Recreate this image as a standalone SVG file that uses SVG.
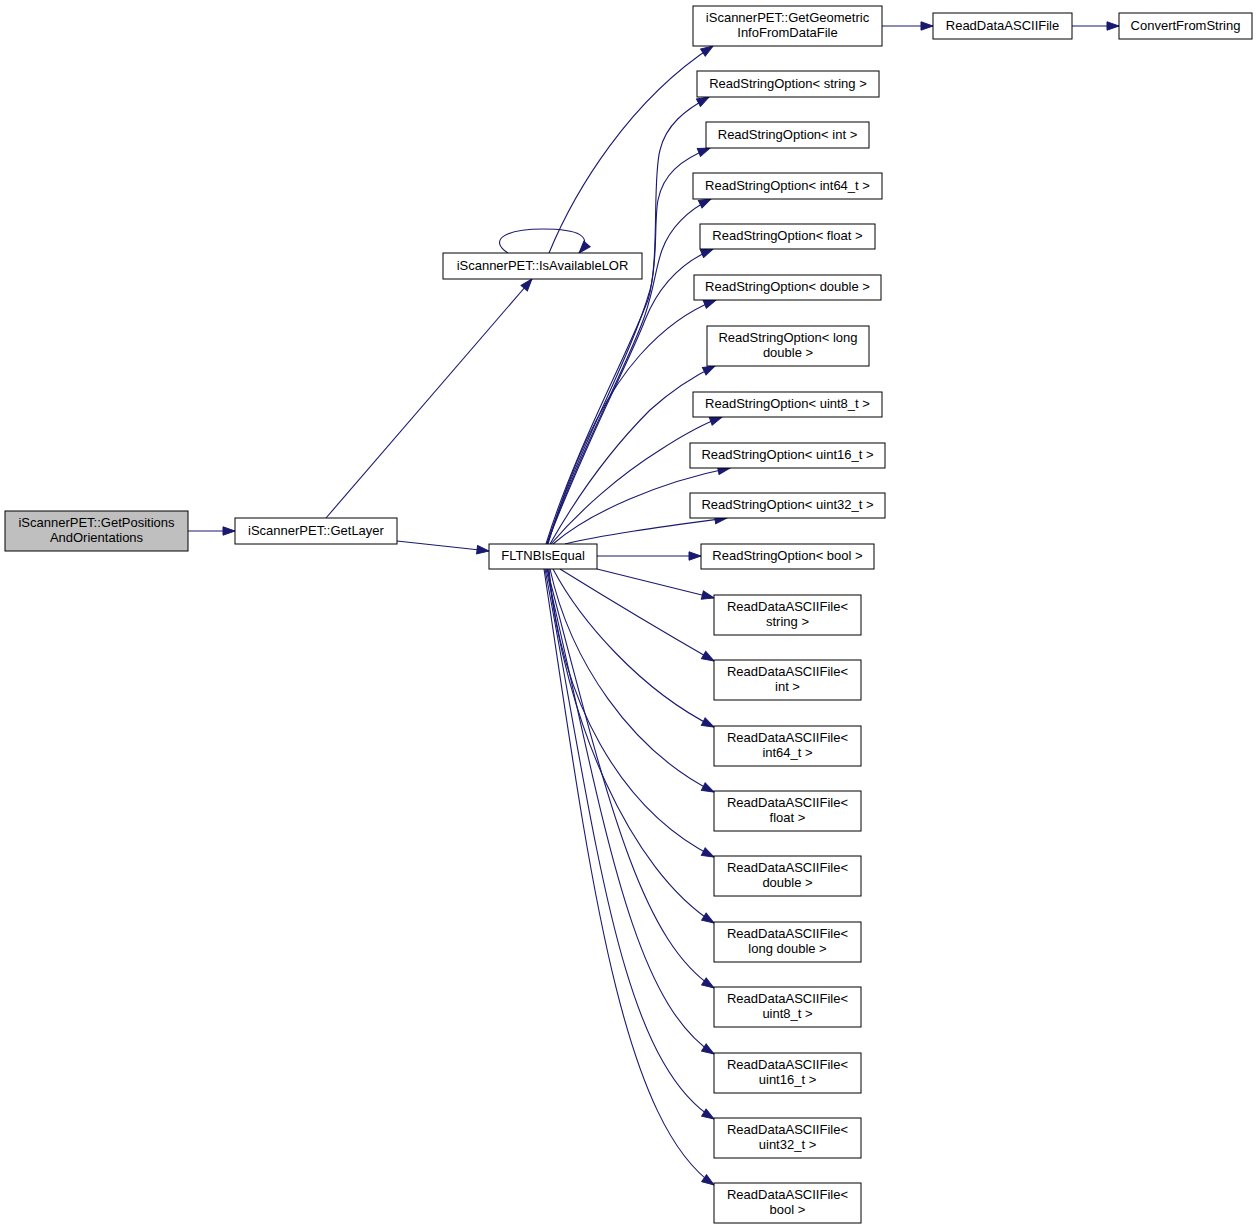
<svg xmlns="http://www.w3.org/2000/svg" width="1257" height="1229" viewBox="0 0 1257 1229">
<style>
.n rect{fill:#ffffff;stroke:#000000;stroke-width:1}
.n.root rect{fill:#bfbfbf}
.n text{font-family:"Liberation Sans",Arial,Helvetica,sans-serif;font-size:13px;fill:#000000;text-anchor:middle}
.e path{fill:none;stroke:#191970;stroke-width:1.1;marker-end:url(#ah)}
</style>
<defs>
<marker id="ah" markerUnits="userSpaceOnUse" markerWidth="14" markerHeight="10" viewBox="0 0 13 10" refX="12.5" refY="5" orient="auto">
<path d="M0.5,0.8 L12.5,5 L0.5,9.2 z" fill="#191970" stroke="#191970" stroke-width="1"/>
</marker>
</defs>
<rect x="0" y="0" width="1257" height="1229" fill="#ffffff"/>
<g id="edges" class="e">
<path d="M188,531 L235,531"/>
<path d="M326,518 L532,279"/>
<path d="M397,541 L489,551"/>
<path d="M508,253 C488,240 505,229 543,229 C578,229 594,236 579,253"/>
<path d="M549,253 C575,190 630,100 713,46"/>
<path d="M882,26 L933,26"/>
<path d="M1072,26 L1119,26"/>
<path d="M546,544 C575,450 625,360 648,300 C660,260 652,180 660,150 C666,125 685,110 709,97"/>
<path d="M547,544 C577,450 630,360 650,290 C658,262 654,220 658,200 C663,175 680,160 710,148"/>
<path d="M547,544 C580,450 630,360 645,315 C655,285 655,270 662,250 C670,228 688,210 711,199"/>
<path d="M547,544 C582,450 630,360 645,320 C655,295 675,265 713,249"/>
<path d="M548,544 C570,470 600,400 640,355 C665,327 690,310 716,300"/>
<path d="M550,544 C575,500 610,450 650,410 C670,392 690,378 715,366"/>
<path d="M551,544 C580,510 620,475 660,450 C680,437 700,425 722,417"/>
<path d="M553,544 C590,512 660,482 730,468"/>
<path d="M565,544 C600,535 660,527 727,518"/>
<path d="M597,556 L701,556"/>
<path d="M597,569 L714,598"/>
<path d="M560,569 C610,600 660,630 714,661"/>
<path d="M553,569 C580,620 640,690 714,727"/>
<path d="M550,569 C570,660 630,750 714,792"/>
<path d="M549,569 C560,700 620,810 714,857"/>
<path d="M548,569 C565,720 630,870 714,923"/>
<path d="M547,569 C607,799 640,940 714,988"/>
<path d="M546,569 C604,819 630,1000 714,1054"/>
<path d="M545,569 C598,849 620,1060 714,1119"/>
<path d="M544,569 C589,869 620,1120 714,1185"/>
</g>
<g id="node_getpositions" class="n root"><rect x="5" y="511" width="183" height="40"/><text x="96.5" y="527">iScannerPET::GetPositions</text><text x="96.5" y="542">AndOrientations</text></g>
<g id="node_getlayer" class="n"><rect x="235" y="518" width="162" height="26"/><text x="316" y="534.5">iScannerPET::GetLayer</text></g>
<g id="node_isavailablelor" class="n"><rect x="443" y="253" width="199" height="26"/><text x="542.5" y="269.5">iScannerPET::IsAvailableLOR</text></g>
<g id="node_getgeometric" class="n"><rect x="693" y="6" width="189" height="40"/><text x="787.5" y="22">iScannerPET::GetGeometric</text><text x="787.5" y="37">InfoFromDataFile</text></g>
<g id="node_readdataasciifile" class="n"><rect x="933" y="13" width="139" height="26"/><text x="1002.5" y="29.5">ReadDataASCIIFile</text></g>
<g id="node_convertfromstring" class="n"><rect x="1119" y="13" width="133" height="26"/><text x="1185.5" y="29.5">ConvertFromString</text></g>
<g id="node_fltnbisequal" class="n"><rect x="489" y="544" width="108" height="25"/><text x="543" y="560">FLTNBIsEqual</text></g>
<g id="node_rso_string" class="n"><rect x="697" y="71" width="182" height="26"/><text x="788" y="87.5">ReadStringOption&lt; string &gt;</text></g>
<g id="node_rso_int" class="n"><rect x="706" y="122" width="163" height="26"/><text x="787.5" y="138.5">ReadStringOption&lt; int &gt;</text></g>
<g id="node_rso_int64" class="n"><rect x="693" y="173" width="189" height="26"/><text x="787.5" y="189.5">ReadStringOption&lt; int64_t &gt;</text></g>
<g id="node_rso_float" class="n"><rect x="700" y="224" width="175" height="25"/><text x="787.5" y="240">ReadStringOption&lt; float &gt;</text></g>
<g id="node_rso_double" class="n"><rect x="694" y="275" width="187" height="25"/><text x="787.5" y="291">ReadStringOption&lt; double &gt;</text></g>
<g id="node_rso_longdouble" class="n"><rect x="707" y="326" width="162" height="40"/><text x="788" y="342">ReadStringOption&lt; long</text><text x="788" y="357">double &gt;</text></g>
<g id="node_rso_uint8" class="n"><rect x="693" y="392" width="189" height="25"/><text x="787.5" y="408">ReadStringOption&lt; uint8_t &gt;</text></g>
<g id="node_rso_uint16" class="n"><rect x="690" y="443" width="195" height="25"/><text x="787.5" y="459">ReadStringOption&lt; uint16_t &gt;</text></g>
<g id="node_rso_uint32" class="n"><rect x="690" y="493" width="195" height="25"/><text x="787.5" y="509">ReadStringOption&lt; uint32_t &gt;</text></g>
<g id="node_rso_bool" class="n"><rect x="701" y="544" width="173" height="25"/><text x="787.5" y="560">ReadStringOption&lt; bool &gt;</text></g>
<g id="node_rdaf_string" class="n"><rect x="714" y="595" width="147" height="40"/><text x="787.5" y="611">ReadDataASCIIFile&lt;</text><text x="787.5" y="626">string &gt;</text></g>
<g id="node_rdaf_int" class="n"><rect x="714" y="660" width="147" height="40"/><text x="787.5" y="676">ReadDataASCIIFile&lt;</text><text x="787.5" y="691">int &gt;</text></g>
<g id="node_rdaf_int64" class="n"><rect x="714" y="726" width="147" height="40"/><text x="787.5" y="742">ReadDataASCIIFile&lt;</text><text x="787.5" y="757">int64_t &gt;</text></g>
<g id="node_rdaf_float" class="n"><rect x="714" y="791" width="147" height="40"/><text x="787.5" y="807">ReadDataASCIIFile&lt;</text><text x="787.5" y="822">float &gt;</text></g>
<g id="node_rdaf_double" class="n"><rect x="714" y="856" width="147" height="40"/><text x="787.5" y="872">ReadDataASCIIFile&lt;</text><text x="787.5" y="887">double &gt;</text></g>
<g id="node_rdaf_longdouble" class="n"><rect x="714" y="922" width="147" height="40"/><text x="787.5" y="938">ReadDataASCIIFile&lt;</text><text x="787.5" y="953">long double &gt;</text></g>
<g id="node_rdaf_uint8" class="n"><rect x="714" y="987" width="147" height="40"/><text x="787.5" y="1003">ReadDataASCIIFile&lt;</text><text x="787.5" y="1018">uint8_t &gt;</text></g>
<g id="node_rdaf_uint16" class="n"><rect x="714" y="1053" width="147" height="40"/><text x="787.5" y="1069">ReadDataASCIIFile&lt;</text><text x="787.5" y="1084">uint16_t &gt;</text></g>
<g id="node_rdaf_uint32" class="n"><rect x="714" y="1118" width="147" height="40"/><text x="787.5" y="1134">ReadDataASCIIFile&lt;</text><text x="787.5" y="1149">uint32_t &gt;</text></g>
<g id="node_rdaf_bool" class="n"><rect x="714" y="1183" width="147" height="40"/><text x="787.5" y="1199">ReadDataASCIIFile&lt;</text><text x="787.5" y="1214">bool &gt;</text></g>
</svg>
